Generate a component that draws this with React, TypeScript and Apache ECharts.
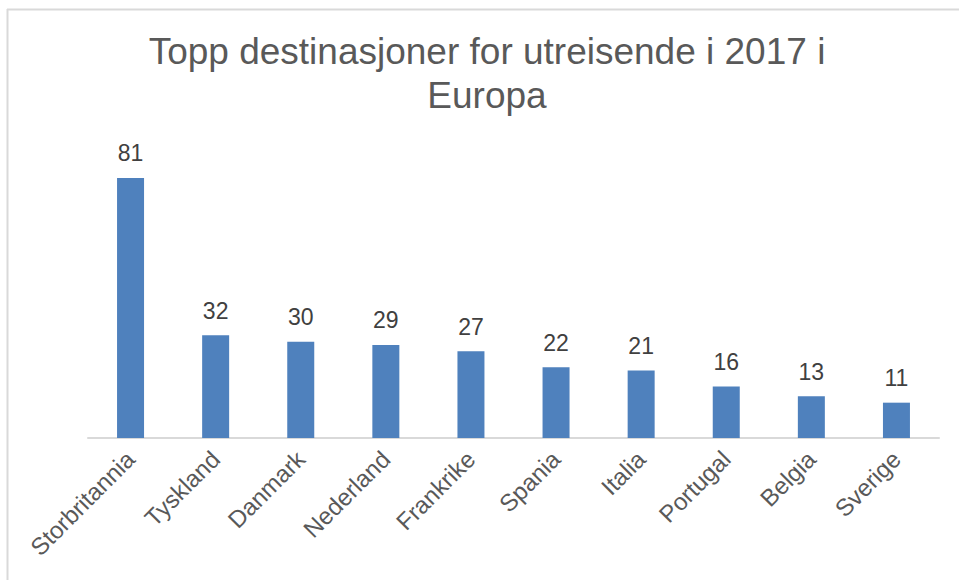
import React, { useEffect, useRef } from "react";
import * as echarts from "echarts";

const categories = ["Storbritannia", "Tyskland", "Danmark", "Nederland", "Frankrike", "Spania", "Italia", "Portugal", "Belgia", "Sverige"];
const values = [81, 32, 30, 29, 27, 22, 21, 16, 13, 11];
const titleText = "Topp destinasjoner for utreisende i 2017 i\nEuropa";

export default function App() {
  const ref = useRef<HTMLDivElement>(null);
  useEffect(() => {
    if (!ref.current) return;
    const chart = echarts.init(ref.current, null, { renderer: "svg" });
    const font = "'Liberation Sans', Arial, sans-serif";
    chart.setOption({
      animation: false,
      backgroundColor: "#ffffff",
      title: {
        text: titleText,
        left: 482,
        top: 24,
        textAlign: "center",
        textStyle: {
          fontFamily: font,
          fontSize: 37,
          lineHeight: 44,
          fontWeight: "normal",
          color: "#595959",
        },
      },
      graphic: [
        { type: "line", shape: { x1: 7, y1: 9.5, x2: 959, y2: 9.5 }, style: { stroke: "#d9d9d9", lineWidth: 2 } },
        { type: "line", shape: { x1: 7.5, y1: 9, x2: 7.5, y2: 580 }, style: { stroke: "#d9d9d9", lineWidth: 2 } },
      ],
      grid: { left: 88, right: 20, top: 149, bottom: 142, containLabel: false },
      xAxis: {
        type: "category",
        data: categories,
        axisLine: { show: true, lineStyle: { color: "#d9d9d9", width: 2 } },
        axisTick: { show: false },
        axisLabel: {
          rotate: 45,
          interval: 0,
          margin: 17,
          fontFamily: font,
          fontSize: 24,
          color: "#595959",
        },
      },
      yAxis: {
        type: "value",
        min: 0,
        max: 90,
        show: false,
        splitLine: { show: false },
      },
      series: [
        {
          type: "bar",
          data: values,
          barWidth: 27,
          itemStyle: { color: "#4f81bd" },
          label: {
            show: true,
            position: "top",
            distance: 13,
            fontFamily: font,
            fontSize: 23,
            color: "#404040",
          },
        },
      ],
    });
    return () => chart.dispose();
  }, []);
  return <div ref={ref} style={{ position: "fixed", left: 0, top: 0, width: 959, height: 580 }} />;
}
